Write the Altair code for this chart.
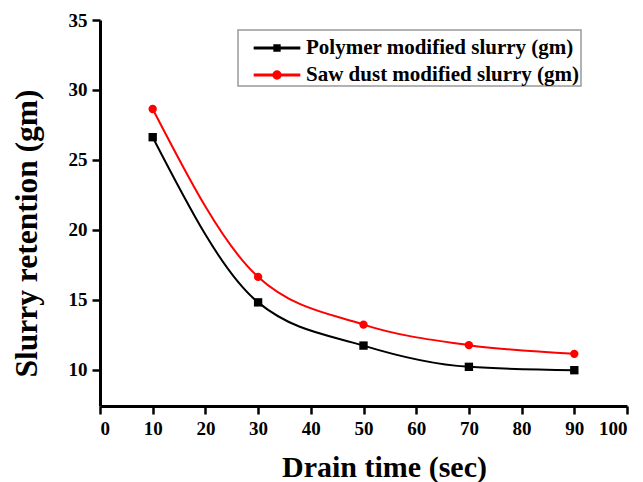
import altair as alt
import pandas as pd

drain_time = [10, 30, 50, 70, 90]
polymer = [26.62, 14.81, 11.72, 10.2, 9.96]
sawdust = [28.64, 16.63, 13.22, 11.75, 11.13]
series_names = ["Polymer modified slurry (gm)", "Saw dust modified slurry (gm)"]
series_colors = ["#000000", "#ff0000"]
point_shapes = ["square", "circle"]
# legend glyphs: a line segment with the marker in its middle
legend_shapes = [
    "M-0.15,0H2.86M1.215,-0.14H1.495V0.14H1.215Z",
    "M-0.15,0H2.86M1.56,0A0.205,0.205,0,1,1,1.15,0A0.205,0.205,0,1,1,1.56,0Z",
]
x_ticks = list(range(0, 101, 10))
y_ticks = [10, 15, 20, 25, 30, 35]

rows = []
for name, vals in zip(series_names, [polymer, sawdust]):
    for t, v in zip(drain_time, vals):
        rows.append({"time": t, "value": v, "series": name})
df = pd.DataFrame(rows)

FONT = "Liberation Serif"

x_enc = alt.X(
    "time:Q",
    scale=alt.Scale(domain=[0, 100], nice=False, zero=False),
    axis=alt.Axis(
        values=x_ticks,
        title="Drain time (sec)",
        titleX=284,
        titleY=70,
        titleBaseline="alphabetic",
        titleFontSize=30,
    ),
)
y_enc = alt.Y(
    "value:Q",
    scale=alt.Scale(domain=[7.4, 35], nice=False, zero=False),
    axis=alt.Axis(
        values=y_ticks,
        title="Slurry retention (gm)",
        titleX=-64,
        titleY=213,
        titleAngle=-90,
        titleBaseline="alphabetic",
        titleFontSize=31.5,
    ),
)

layers = []
for name, col, shp in zip(series_names, series_colors, point_shapes):
    base = alt.Chart(df).transform_filter(alt.datum.series == name)
    layers.append(
        base.mark_line(interpolate="monotone", strokeWidth=2, color=col).encode(x=x_enc, y=y_enc)
    )
    layers.append(
        base.mark_point(filled=True, opacity=1, size=70, shape=shp, color=col).encode(x=x_enc, y=y_enc)
    )

color_scale = alt.Scale(domain=series_names, range=series_colors)
legend_layer = alt.Chart(df).mark_point(filled=True, opacity=0).encode(
    x=x_enc, y=y_enc,
    fill=alt.Fill("series:N", scale=color_scale, legend=alt.Legend(title=None)),
    stroke=alt.Stroke("series:N", scale=color_scale, legend=alt.Legend(title=None)),
    shape=alt.Shape(
        "series:N",
        scale=alt.Scale(domain=series_names, range=legend_shapes),
        legend=alt.Legend(title=None),
    ),
)
layers.append(legend_layer)

chart = (
    alt.layer(*layers)
    .properties(
        width=527,
        height=386,
        autosize=alt.AutoSizeParams(type="none"),
        padding={"left": 100, "top": 20, "right": 16, "bottom": 76},
    )
    .configure_view(stroke=None)
    .configure_axis(
        grid=False,
        domainColor="black",
        domainWidth=3,
        tickColor="black",
        tickWidth=2.5,
        tickSize=8,
        labelFont=FONT,
        labelFontSize=19,
        labelFontWeight="bold",
        labelColor="black",
        labelPadding=5,
        titleFont=FONT,
        titleFontWeight="bold",
        titleColor="black",
    )
    .configure_legend(
        orient="none",
        legendX=138,
        legendY=10,
        padding=1,
        symbolOffset=0,
        strokeColor="#999999",
        strokeWidth=1.5,
        fillColor="white",
        labelFont=FONT,
        labelFontSize=21,
        labelFontWeight="bold",
        labelColor="black",
        labelOffset=33,
        symbolSize=961,
        symbolStrokeWidth=3,
        symbolOpacity=1,
        rowPadding=-1,
        labelLimit=400,
    )
)

chart.save("out.html", embed_options={"renderer": "svg", "actions": False})
